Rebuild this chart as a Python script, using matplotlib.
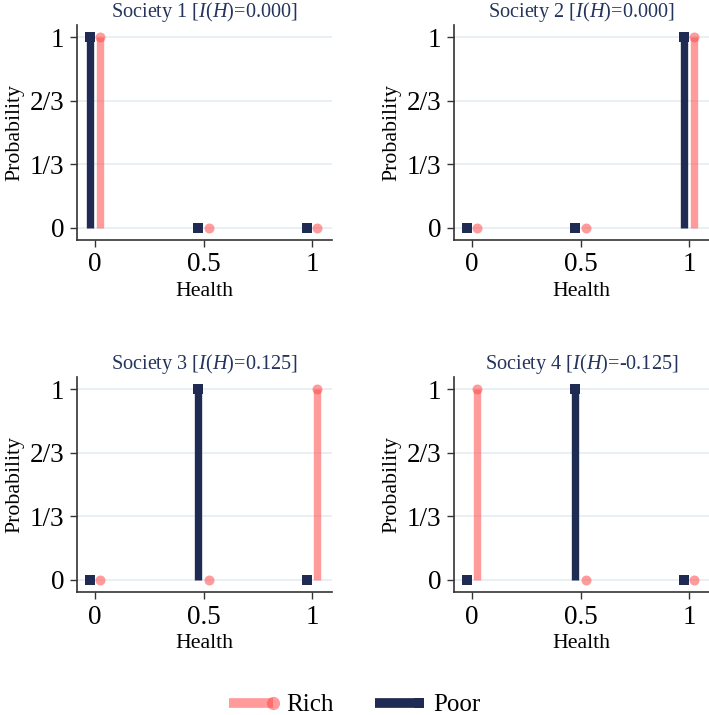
import matplotlib
matplotlib.use("Agg")
import matplotlib.pyplot as plt
from matplotlib.lines import Line2D
from matplotlib.legend_handler import HandlerBase

# -----------------------------------
# DATA
# -----------------------------------
health = [0, 0.5, 1]
societies = ["Society 1", "Society 2", "Society 3", "Society 4"]
ineq = ["0.000", "0.000", "0.125", "-0.125"]
rich_prob = [
    [1, 0, 0],
    [0, 0, 1],
    [0, 0, 1],
    [1, 0, 0],
]
poor_prob = [
    [1, 0, 0],
    [0, 0, 1],
    [0, 1, 0],
    [0, 1, 0],
]
yticks = [0, 1 / 3, 2 / 3, 1]
ytick_labels = ["0", "1/3", "2/3", "1"]
xticks = [0, 0.5, 1]
xtick_labels = ["0", "0.5", "1"]

# -----------------------------------
# STYLE
# -----------------------------------
plt.rcParams["font.family"] = ["Liberation Serif", "DejaVu Serif"]
plt.rcParams["mathtext.fontset"] = "custom"
plt.rcParams["mathtext.it"] = "Liberation Serif:italic"
plt.rcParams["mathtext.rm"] = "Liberation Serif"

navy = "#1f2b52"
pink = "#ff4a4a"
pink_alpha = 0.55
title_col = "#24345c"
grid_col = "#e4eef4"
offset = 0.025

fig = plt.figure(figsize=(7.09, 7.15), dpi=100)

# axes boxes in pixels: left, top, right, bottom
boxes = [
    (77, 25, 332, 240),
    (454, 25, 709, 240),
    (77, 377, 332, 592),
    (454, 377, 709, 592),
]
W, H = 709, 715

for i, (l, t, r, b) in enumerate(boxes):
    ax = fig.add_axes([l / W, 1 - b / H, (r - l) / W, (b - t) / H])
    for y in yticks:
        ax.axhline(y, color=grid_col, lw=1.2, zorder=0)

    xp = [h - offset for h in health]
    xr = [h + offset for h in health]
    ax.vlines(xp, 0, poor_prob[i], color=navy, lw=5.3, zorder=2)
    ax.plot(xp, poor_prob[i], "s", color=navy, ms=6.5, mew=0, zorder=3)
    ax.vlines(xr, 0, rich_prob[i], color=pink, alpha=pink_alpha, lw=5.3, zorder=2)
    ax.plot(xr, rich_prob[i], "o", color=pink, alpha=pink_alpha, ms=7.2, mew=0, zorder=3)

    ax.set_xlim(-0.083, 1.092)
    ax.set_ylim(-0.063, 1.063)
    ax.set_xticks(xticks)
    ax.set_xticklabels(xtick_labels)
    ax.set_yticks(yticks)
    ax.set_yticklabels(ytick_labels)
    ax.tick_params(labelsize=19.5, length=5, width=1, color="#333333", pad=4)
    for s in ["top", "right"]:
        ax.spines[s].set_visible(False)
    for s in ["left", "bottom"]:
        ax.spines[s].set_color("#333333")
        ax.spines[s].set_linewidth(1.2)

    ax.set_xlabel("Health", fontsize=15.7, labelpad=3)
    ax.set_ylabel("Probability", fontsize=15.7, labelpad=4)
    ax.set_title(societies[i] + " [$\\mathit{I}$($\\mathit{H}$)=" + ineq[i] + "]",
                 fontsize=14.6, color=title_col, pad=6)


# -----------------------------------
# LEGEND (thick line with marker at right end)
# -----------------------------------
class EndMarker(HandlerBase):
    def __init__(self, marker, ms):
        super().__init__()
        self.marker = marker
        self.ms = ms

    def create_artists(self, legend, orig, xd, yd, w, h, fontsize, trans):
        y = h / 2 - yd
        ln = Line2D([-xd, -xd + w], [y, y], color=orig.get_color(),
                    alpha=orig.get_alpha(), lw=orig.get_linewidth(),
                    solid_capstyle="butt")
        mk = Line2D([-xd + w], [y], marker=self.marker, color=orig.get_color(),
                    alpha=orig.get_alpha(), ms=self.ms, mew=0, ls="none")
        ln.set_transform(trans)
        mk.set_transform(trans)
        return [ln, mk]


rich_h = Line2D([], [], color=pink, alpha=pink_alpha, lw=7)
poor_h = Line2D([], [], color=navy, lw=7)
fig.legend([rich_h, poor_h], ["Rich", "Poor"], loc="center",
           bbox_to_anchor=(0.5, 1 - 705 / H), ncol=2, frameon=False, fontsize=18,
           handlelength=1.75, columnspacing=1.65, handletextpad=0.55,
           handler_map={rich_h: EndMarker("o", 9.5), poor_h: EndMarker("s", 7.5)})

plt.savefig("out.png", dpi=100)
